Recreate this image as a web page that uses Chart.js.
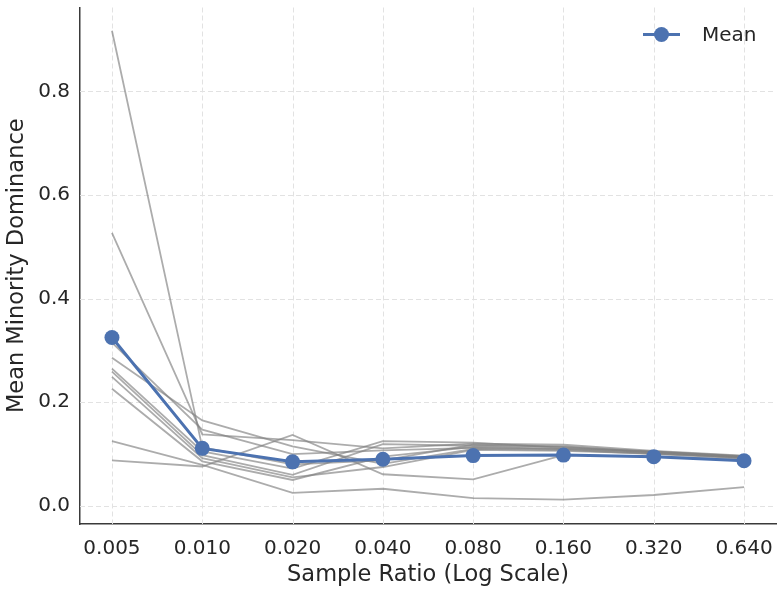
<!DOCTYPE html>
<html>
<head>
<meta charset="utf-8">
<script src="https://cdn.jsdelivr.net/npm/chart.js@4.4.1/dist/chart.umd.min.js"></script>
<style>
html, body { margin: 0; padding: 0; background: #fff; }
</style>
</head>
<body>
<canvas id="grafico" width="784" height="592"></canvas>
<script>
// sample ratios (x, log scale)
const ratios = [0.005, 0.010, 0.020, 0.040, 0.080, 0.160, 0.320, 0.640];

// individual runs (gray lines)
const run1  = [0.917, 0.113, 0.080, 0.088, 0.118, 0.115, 0.104, 0.095];
const run2  = [0.527, 0.138, 0.127, 0.111, 0.120, 0.118, 0.106, 0.097];
const run3  = [0.315, 0.147, 0.100, 0.107, 0.112, 0.110, 0.102, 0.093];
const run4  = [0.286, 0.165, 0.115, 0.081, 0.110, 0.108, 0.100, 0.092];
const run5  = [0.265, 0.105, 0.072, 0.125, 0.122, 0.112, 0.105, 0.096];
const run6  = [0.259, 0.098, 0.060, 0.119, 0.116, 0.114, 0.103, 0.094];
const run7  = [0.249, 0.092, 0.055, 0.075, 0.108, 0.106, 0.101, 0.093];
const run8  = [0.226, 0.086, 0.050, 0.095, 0.114, 0.110, 0.104, 0.095];
const run9  = [0.125, 0.079, 0.025, 0.033, 0.015, 0.012, 0.021, 0.036];
const run10 = [0.088, 0.076, 0.137, 0.061, 0.051, 0.098, 0.095, 0.090];
const runs = [run1, run2, run3, run4, run5, run6, run7, run8, run9, run10];

// mean across runs
const mean = [0.325, 0.111, 0.085, 0.090, 0.097, 0.098, 0.095, 0.087];

const yTicks = [0, 0.2, 0.4, 0.6, 0.8];

const fonte = 'DejaVu Sans';
const corTexto = '#262626';
const azul = '#4c72b0';
const corGrade = '#e2e2e2';

function pontos(valores) {
    return ratios.map((r, i) => ({ x: r, y: valores[i] }));
}

// no extra room for tick labels at the axis ends
function semFolga(axis) {
    axis.paddingTop = 0;
    axis.paddingBottom = 0;
    axis.paddingLeft = 0;
    axis.paddingRight = 0;
}

const datasets = [{
    label: 'Mean',
    data: pontos(mean),
    borderColor: azul,
    backgroundColor: azul,
    borderWidth: 3,
    pointRadius: 7.5,
    pointHoverRadius: 7.5,
    pointBorderWidth: 0,
    order: 0
}];

runs.forEach((r, i) => {
    datasets.push({
        label: 'run ' + (i + 1),
        data: pontos(r),
        borderColor: 'rgba(128,128,128,0.65)',
        borderWidth: 1.8,
        pointRadius: 0,
        order: 1
    });
});

const ctx = document.getElementById('grafico').getContext('2d');

new Chart(ctx, {
    type: 'line',
    data: { datasets: datasets },
    options: {
        responsive: false,
        animation: false,
        layout: { padding: { left: 0, right: 8, top: 6, bottom: 0 } },
        plugins: {
            tooltip: { enabled: false },
            legend: { display: false }
        },
        scales: {
            x: {
                type: 'logarithmic',
                min: 0.005 / Math.pow(2, 0.354),
                max: 0.64 * Math.pow(2, 0.354),
                afterBuildTicks: axis => { axis.ticks = ratios.map(v => ({ value: v })); },
                afterFit: axis => { axis.height = 68; semFolga(axis); },
                grid: { color: 'transparent', drawTicks: false },
                border: { display: true, color: '#3a3a3a', width: 1.5 },
                ticks: {
                    color: corTexto,
                    font: { family: fonte, size: 20 },
                    padding: 13,
                    maxRotation: 0,
                    autoSkip: false,
                    callback: v => Number(v).toFixed(3)
                },
                title: {
                    display: true,
                    text: 'Sample Ratio (Log Scale)',
                    color: corTexto,
                    font: { family: fonte, size: 22.5 },
                    padding: { top: 0, bottom: 3 }
                }
            },
            y: {
                min: -0.035,
                max: 0.962,
                afterBuildTicks: axis => { axis.ticks = yTicks.map(v => ({ value: v })); },
                afterFit: axis => { axis.width = 80; semFolga(axis); },
                grid: { color: 'transparent', drawTicks: false },
                border: { display: true, color: '#3a3a3a', width: 1.5 },
                ticks: {
                    color: corTexto,
                    font: { family: fonte, size: 20 },
                    padding: 10,
                    callback: v => Number(v).toFixed(1)
                },
                title: {
                    display: true,
                    text: 'Mean Minority Dominance',
                    color: corTexto,
                    font: { family: fonte, size: 22.5 },
                    padding: { top: 4, bottom: 0 }
                }
            }
        }
    },
    plugins: [{
        id: 'gradeTracejada',
        beforeDatasetsDraw(chart) {
            // dashed grid, matplotlib style
            const { ctx, chartArea } = chart;
            const sx = chart.scales.x, sy = chart.scales.y;
            ctx.save();
            ctx.strokeStyle = corGrade;
            ctx.lineWidth = 1;
            ctx.setLineDash([5, 3]);
            ratios.forEach(v => {
                const px = Math.round(sx.getPixelForValue(v)) + 0.5;
                ctx.beginPath();
                ctx.moveTo(px, chartArea.top);
                ctx.lineTo(px, chartArea.bottom);
                ctx.stroke();
            });
            yTicks.forEach(v => {
                const py = Math.round(sy.getPixelForValue(v)) + 0.5;
                ctx.beginPath();
                ctx.moveTo(chartArea.left, py);
                ctx.lineTo(chartArea.right, py);
                ctx.stroke();
            });
            ctx.restore();
        }
    }, {
        id: 'legenda',
        afterDraw(chart) {
            // legend in the upper right: line + marker, then label
            const { ctx, chartArea } = chart;
            const y = chartArea.top + 27;
            const x0 = chartArea.right - 133;
            ctx.save();
            ctx.strokeStyle = azul;
            ctx.lineWidth = 3;
            ctx.beginPath();
            ctx.moveTo(x0, y);
            ctx.lineTo(x0 + 37, y);
            ctx.stroke();
            ctx.fillStyle = azul;
            ctx.beginPath();
            ctx.arc(x0 + 18.5, y, 7.5, 0, Math.PI * 2);
            ctx.fill();
            ctx.fillStyle = corTexto;
            ctx.font = '20px "' + fonte + '"';
            ctx.textBaseline = 'middle';
            ctx.textAlign = 'left';
            ctx.fillText(datasets[0].label, x0 + 59, y + 1);
            ctx.restore();
        }
    }]
});
</script>
</body>
</html>
